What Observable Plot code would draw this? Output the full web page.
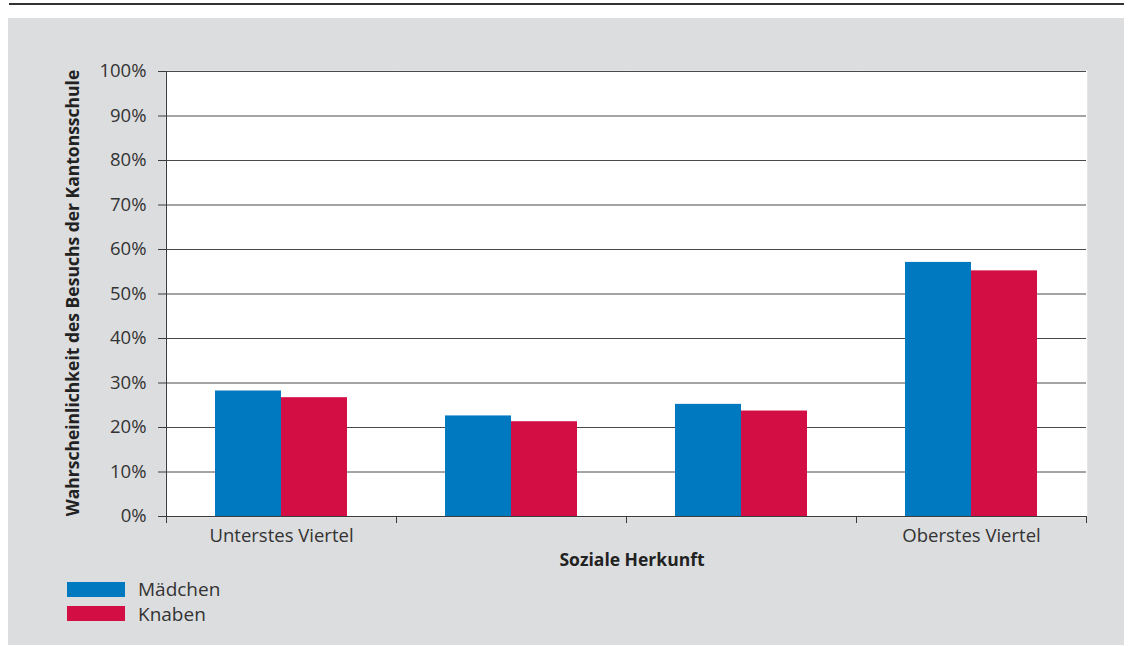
<!DOCTYPE html>
<html><head><meta charset="utf-8">
<script src="https://cdn.jsdelivr.net/npm/d3@7"></script>
<script src="https://cdn.jsdelivr.net/npm/@observablehq/plot@0.6"></script>
<style>
body{margin:0;background:#fff;font-family:"Open Sans",sans-serif;color:#333;}
#topline{position:absolute;left:9px;top:3px;width:1115px;height:2px;background:#333;}
#panel{position:absolute;left:8px;top:18px;width:1116px;height:627px;background:#DCDDDF;}
#chart{position:absolute;left:0;top:0;}
#ytitle{position:absolute;left:64px;top:275px;transform:translate(-50%,-50%) rotate(-90deg);white-space:nowrap;font-weight:bold;font-size:17.5px;color:#222;}
#xtitle{position:absolute;left:624px;top:541px;transform:translate(-50%,-50%);white-space:nowrap;font-weight:bold;font-size:17.5px;color:#222;}
.leg{position:absolute;left:59px;width:58px;height:15px;}
.legt{position:absolute;left:130px;font-size:19px;line-height:20px;color:#333;}
</style></head><body>
<div id="topline"></div>
<div id="panel">
  <div id="chart"></div>
  <div id="ytitle">Wahrscheinlichkeit des Besuchs der Kantonsschule</div>
  <div id="xtitle">Soziale Herkunft</div>
  <div id="legend"></div>
</div>
<script>
const categories = ["Unterstes Viertel", "Zweites Viertel", "Drittes Viertel", "Oberstes Viertel"];
const categoryLabels = ["Unterstes Viertel", "", "", "Oberstes Viertel"];
const series = ["Mädchen", "Knaben"];
const maedchen = [0.282, 0.226, 0.252, 0.571];
const knaben = [0.267, 0.213, 0.237, 0.552];
const yTicks = [0, 0.1, 0.2, 0.3, 0.4, 0.5, 0.6, 0.7, 0.8, 0.9, 1.0];
const colors = ["#0079C1", "#D20E45"];

const data = categories.flatMap((c, i) => [
  {cat: c, sex: series[0], value: maedchen[i]},
  {cat: c, sex: series[1], value: knaben[i]}
]);

const W = 1116, H = 557, mL = 157, mR = 38, mT = 53, mB = 59;
const innerH = H - mT - mB;
const ink = "#3a3a3a";

const plot = Plot.plot({
  width: W, height: H,
  marginLeft: mL, marginRight: mR, marginTop: mT, marginBottom: mB,
  style: {background: "transparent", fontFamily: '"Open Sans", sans-serif', fontSize: "18.5px", color: "#333", overflow: "visible"},
  fx: {domain: categories, padding: 0, label: null, axis: null},
  x: {domain: series, paddingInner: 0, paddingOuter: 0.742, axis: null},
  y: {domain: [0, 1], label: null},
  color: {domain: series, range: colors},
  marks: [
    Plot.frame({fill: "white", stroke: "white", strokeWidth: 1.5}),
    Plot.gridY(yTicks, {stroke: "#4a4a4a", strokeOpacity: 1, strokeWidth: 1}),
    Plot.barY(data, {fx: "cat", x: "sex", y: "value", fill: "sex"}),
    Plot.axisY(yTicks, {tickSize: 8, tickPadding: 12, tickFormat: d3.format(".0%"), label: null, stroke: ink}),
    Plot.frame({anchor: "left", facetAnchor: "left", insetBottom: -6, stroke: ink}),
    Plot.frame({anchor: "left", insetTop: innerH, insetBottom: -6, stroke: ink}),
    Plot.frame({anchor: "right", facetAnchor: "right", insetTop: innerH, insetBottom: -6, stroke: ink}),
    Plot.ruleY([0], {stroke: ink}),
    Plot.axisFx({anchor: "bottom", tickSize: 0, tickPadding: 12, tickFormat: d => categoryLabels[categories.indexOf(d)], label: null})
  ]
});
document.getElementById("chart").appendChild(plot);

const legend = document.getElementById("legend");
series.forEach((s, i) => {
  const sw = document.createElement("div");
  sw.className = "leg";
  sw.style.top = (564 + i * 24) + "px";
  sw.style.background = colors[i];
  legend.appendChild(sw);
  const t = document.createElement("div");
  t.className = "legt";
  t.style.top = (561 + i * 25) + "px";
  t.textContent = s;
  legend.appendChild(t);
});
</script>
</body></html>
